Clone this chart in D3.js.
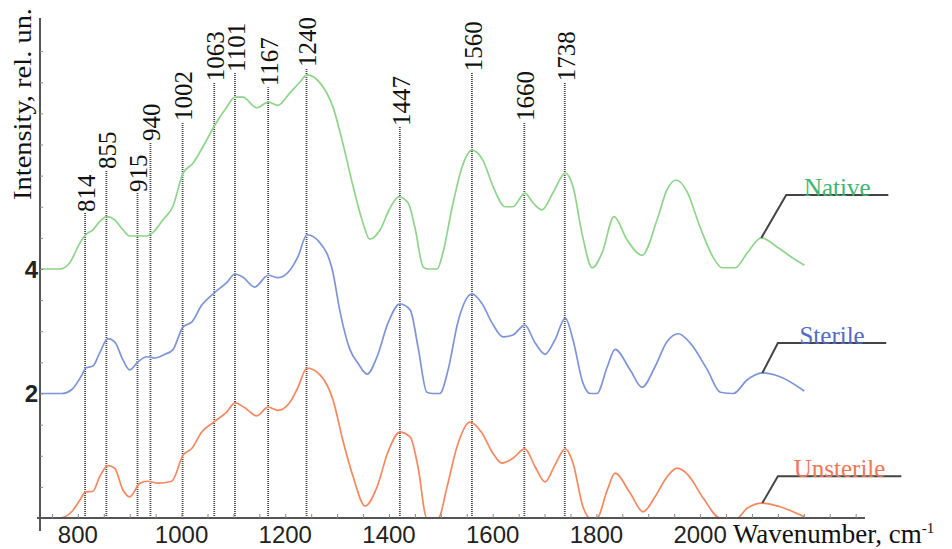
<!DOCTYPE html>
<html>
<head>
<meta charset="utf-8">
<script src="https://cdn.jsdelivr.net/npm/d3@7"></script>
<style>
  body { margin: 0; background: #fff; }
  svg { display: block; }
</style>
</head>
<body>
<div id="chart"></div>
<script>
// spectra, [wavenumber, intensity] (offset baselines 0 / 2 / 4)
const native = [
  [727, 4.0], [765, 4.0], [785, 4.11], [804, 4.42], [815, 4.55], [829, 4.63], [842, 4.76],
  [856, 4.84], [871, 4.79], [887, 4.63], [900, 4.53], [916, 4.53], [933, 4.53], [945, 4.59],
  [964, 4.79], [983, 5.0], [1003, 5.54], [1022, 5.7], [1045, 6.02], [1064, 6.31], [1087, 6.6],
  [1103, 6.76], [1118, 6.76], [1145, 6.59], [1167, 6.68], [1186, 6.63], [1209, 6.83],
  [1228, 7.0], [1242, 7.12], [1267, 6.99], [1292, 6.6], [1311, 6.02], [1331, 5.32],
  [1348, 4.79], [1363, 4.48], [1383, 4.63], [1402, 4.98], [1419, 5.16], [1437, 5.06],
  [1450, 4.67], [1466, 4.03], [1475, 4.0], [1493, 4.0], [1504, 4.26], [1522, 5.0],
  [1541, 5.64], [1560, 5.91], [1581, 5.75], [1601, 5.32], [1624, 5.0], [1639, 5.0],
  [1662, 5.22], [1678, 5.06], [1695, 4.95], [1716, 5.22], [1740, 5.54], [1755, 5.32],
  [1772, 4.58], [1792, 4.02], [1811, 4.26], [1834, 4.84], [1859, 4.47], [1888, 4.22],
  [1917, 4.79], [1936, 5.27], [1954, 5.43], [1975, 5.24], [2000, 4.67], [2025, 4.19],
  [2042, 4.02], [2068, 4.02], [2091, 4.26], [2118, 4.5], [2149, 4.35], [2178, 4.18], [2201, 4.06]
]

const sterile = [
  [727, 2.0], [769, 2.0], [788, 2.06], [808, 2.3], [815, 2.41], [829, 2.44], [842, 2.65],
  [858, 2.88], [871, 2.83], [887, 2.54], [900, 2.38], [916, 2.51], [933, 2.59], [949, 2.57],
  [968, 2.63], [983, 2.7], [1003, 3.07], [1020, 3.15], [1039, 3.42], [1062, 3.61], [1087, 3.78],
  [1103, 3.92], [1118, 3.87], [1141, 3.71], [1167, 3.9], [1186, 3.86], [1209, 3.98],
  [1224, 4.19], [1242, 4.55], [1267, 4.42], [1292, 3.94], [1305, 3.34], [1325, 2.7],
  [1340, 2.49], [1358, 2.31], [1377, 2.59], [1398, 3.13], [1421, 3.44], [1441, 3.34],
  [1456, 2.75], [1473, 2.02], [1485, 2.0], [1498, 2.0], [1514, 2.38], [1533, 3.15],
  [1560, 3.6], [1579, 3.45], [1599, 3.13], [1620, 2.91], [1639, 2.94], [1662, 3.1],
  [1682, 2.81], [1701, 2.63], [1720, 2.86], [1740, 3.21], [1755, 2.86], [1774, 2.17],
  [1788, 2.0], [1801, 2.0], [1821, 2.43], [1836, 2.71], [1865, 2.38], [1888, 2.1],
  [1913, 2.43], [1936, 2.83], [1958, 2.96], [1981, 2.81], [2014, 2.38], [2039, 2.02],
  [2064, 2.0], [2091, 2.22], [2120, 2.33], [2154, 2.27], [2201, 2.04]
]

const unsterile = [
  [727, 0.0], [765, 0.0], [788, 0.1], [804, 0.29], [815, 0.42], [829, 0.43], [842, 0.66],
  [858, 0.84], [871, 0.8], [887, 0.45], [900, 0.34], [920, 0.56], [935, 0.59], [954, 0.56],
  [981, 0.59], [1003, 1.01], [1020, 1.12], [1039, 1.38], [1062, 1.54], [1087, 1.7],
  [1103, 1.85], [1122, 1.77], [1145, 1.64], [1167, 1.78], [1186, 1.73], [1209, 1.86],
  [1224, 2.09], [1242, 2.41], [1267, 2.3], [1292, 1.9], [1311, 1.25], [1331, 0.66],
  [1354, 0.19], [1377, 0.5], [1398, 1.06], [1421, 1.38], [1441, 1.3], [1456, 0.82],
  [1473, 0.0], [1495, 0.0], [1512, 0.5], [1531, 1.14], [1556, 1.54], [1579, 1.37],
  [1599, 1.06], [1618, 0.88], [1639, 0.96], [1662, 1.11], [1682, 0.82], [1701, 0.58],
  [1720, 0.85], [1740, 1.11], [1755, 0.88], [1774, 0.18], [1788, 0.0], [1801, 0.0],
  [1821, 0.45], [1836, 0.72], [1865, 0.4], [1890, 0.1], [1913, 0.34], [1936, 0.66],
  [1956, 0.8], [1977, 0.69], [2006, 0.32], [2039, 0.0], [2071, 0.0], [2091, 0.16],
  [2120, 0.24], [2154, 0.18], [2201, 0.02]
]

// marked bands: where the dotted line stands, its caption, and how high it reaches
const peakPos = [814, 855, 915, 940, 1002, 1063, 1103, 1167, 1241, 1421, 1560, 1661, 1739]
const peakLabels = ['814', '855', '915', '940', '1002', '1063', '1101', '1167', '1240', '1447', '1560', '1660', '1738']
const peakTop = [4.9, 5.59, 5.22, 6.04, 6.36, 7.0, 7.15, 6.92, 7.23, 6.28, 7.16, 6.36, 7.0]

const seriesNames = ['Native', 'Sterile', 'Unsterile']
const lineColors = ['#8fd48b', '#7d95d8', '#f6875f']
const textColors = ['#3cb872', '#4f6cc6', '#f27556']
// leader lines: curve point -> elbow -> end of shelf
const leaders = [
  [[2118, 4.5], [2166, 5.19], [2363, 5.19]],
  [[2120, 2.33], [2150, 2.81], [2359, 2.81]],
  [[2120, 0.24], [2150, 0.67], [2388, 0.67]]
]

const xTicks = [800, 1000, 1200, 1400, 1600, 1800, 2000]
const yTicks = [2, 4]

const W = 952
const H = 549

const svg = d3.select('#chart')
  .append('svg')
  .attr('width', W)
  .attr('height', H)

const x = d3.scaleLinear().domain([727, 2318]).range([40, 865])
const y = d3.scaleLinear().domain([0, 8]).range([518, 20])

const serif = '"Liberation Serif", "Times New Roman", serif'
const sans = '"Liberation Sans", Arial, sans-serif'

// dotted band markers
const peaks = svg.append('g')
peakPos.forEach((p, i) => {
  peaks.append('line')
    .attr('x1', x(p))
    .attr('x2', x(p))
    .attr('y1', y(0))
    .attr('y2', y(peakTop[i]))
    .attr('stroke', '#444')
    .attr('stroke-width', 1.8)
    .attr('stroke-dasharray', '1,1')

  peaks.append('text')
    .attr('transform', `translate(${x(p) + 1},${y(peakTop[i]) - 1}) rotate(-90)`)
    .attr('dy', '0.35em')
    .attr('text-anchor', 'start')
    .style('font-family', serif)
    .style('font-size', '25px')
    .attr('fill', '#111')
    .text(peakLabels[i])
})

// spectra
const line = d3.line()
  .x(d => x(d[0]))
  .y(d => y(d[1]))
  .curve(d3.curveMonotoneX)

const allSeries = [native, sterile, unsterile]
allSeries.forEach((s, i) => {
  svg.append('path')
    .datum(s)
    .attr('d', line)
    .attr('fill', 'none')
    .attr('stroke', lineColors[i])
    .attr('stroke-width', 1.7)
})

// axes
const xAxis = d3.axisBottom(x)
  .tickValues(d3.range(750, 2301, 50))
  .tickSize(-4)
  .tickFormat('')
const gx = svg.append('g')
  .attr('transform', `translate(0,${y(0)})`)
  .call(xAxis)
gx.select('.domain').attr('d', 'M37,0H865').attr('stroke', '#555').attr('stroke-width', 2)
gx.selectAll('.tick line').attr('stroke', '#888').attr('stroke-width', 1)

const yAxis = d3.axisLeft(y)
  .tickValues(d3.range(0.5, 7.6, 0.5))
  .tickSize(-3)
  .tickFormat('')
const gy = svg.append('g')
  .attr('transform', `translate(${x(727)},0)`)
  .call(yAxis)
gy.select('.domain').attr('d', 'M0,18V531').attr('stroke', '#555').attr('stroke-width', 2)
gy.selectAll('.tick line').attr('stroke', '#888').attr('stroke-width', 1)

// tick labels
svg.append('g').selectAll('text')
  .data(xTicks)
  .enter()
  .append('text')
  .attr('x', d => x(d))
  .attr('y', 543)
  .attr('text-anchor', 'middle')
  .style('font-family', sans)
  .style('font-size', '24px')
  .attr('fill', '#222')
  .text(d => d)

svg.append('g').selectAll('text')
  .data(yTicks)
  .enter()
  .append('text')
  .attr('x', 38)
  .attr('y', d => y(d))
  .attr('dy', '0.36em')
  .attr('text-anchor', 'end')
  .style('font-family', sans)
  .style('font-size', '24px')
  .style('font-weight', 'bold')
  .attr('fill', '#222')
  .text(d => d)

// axis titles
svg.append('text')
  .attr('transform', 'translate(31,200) rotate(-90)')
  .attr('text-anchor', 'start')
  .attr('textLength', 192)
  .attr('lengthAdjust', 'spacingAndGlyphs')
  .style('font-family', serif)
  .style('font-size', '25px')
  .attr('fill', '#111')
  .text('Intensity, rel. un.')

const xt = svg.append('text')
  .attr('x', 733)
  .attr('y', 543)
  .style('font-family', serif)
  .style('font-size', '27px')
  .attr('fill', '#111')
xt.append('tspan').text('Wavenumber, cm')
xt.append('tspan')
  .attr('dy', -10)
  .style('font-size', '15px')
  .text('-1')

// series labels with leader lines
const leaderLine = d3.line().x(d => x(d[0])).y(d => y(d[1]))
leaders.forEach((pts, i) => {
  svg.append('path')
    .attr('d', leaderLine(pts))
    .attr('fill', 'none')
    .attr('stroke', '#444')
    .attr('stroke-width', 2)

  svg.append('text')
    .attr('x', (x(pts[1][0]) + x(pts[2][0])) / 2)
    .attr('y', y(pts[1][1]) + 1)
    .attr('text-anchor', 'middle')
    .style('font-family', serif)
    .style('font-size', '25px')
    .attr('fill', textColors[i])
    .text(seriesNames[i])
})
</script>
</body>
</html>
